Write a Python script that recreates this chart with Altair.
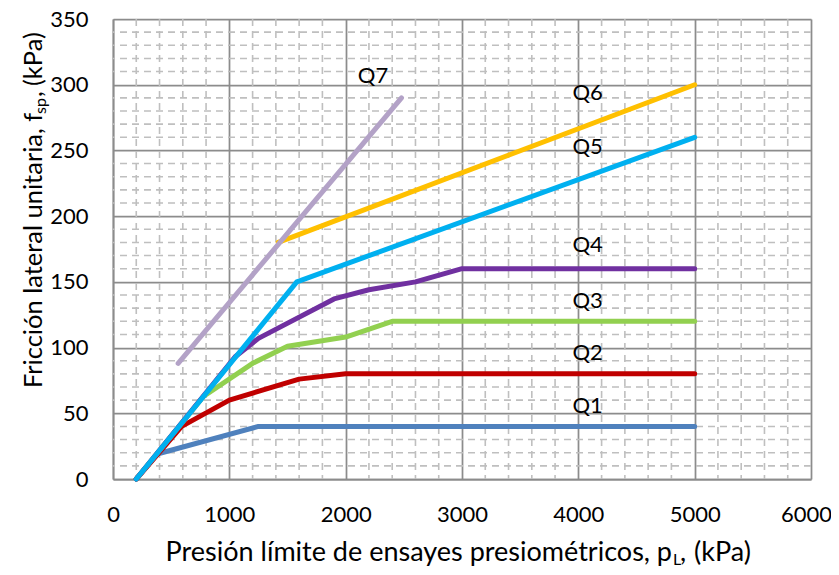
import altair as alt
import pandas as pd

# ---------------- data ----------------
series_names = ["Q1", "Q2", "Q3", "Q4", "Q5", "Q6", "Q7"]
series_colors = ["#4F81BD", "#C00000", "#92D050", "#7030A0", "#00B0F0", "#FFC000", "#B3A2C7"]

q1_x = [200, 380, 1250, 5000]
q1_y = [0, 19, 40, 40]
q2_x = [200, 590, 1000, 1600, 2000, 5000]
q2_y = [0, 40, 60, 76, 80, 80]
q3_x = [200, 780, 1200, 1500, 2000, 2400, 5000]
q3_y = [0, 63, 88, 101, 108, 120, 120]
q4_x = [200, 1050, 1250, 1900, 2200, 2600, 3000, 5000]
q4_y = [0, 93, 107, 137, 144, 150, 160, 160]
q5_x = [200, 1580, 5000]
q5_y = [0, 150, 260]
q6_x = [1420, 5000]
q6_y = [180, 300]
q7_x = [560, 2480]
q7_y = [88, 290]

series_x = [q1_x, q2_x, q3_x, q4_x, q5_x, q6_x, q7_x]
series_y = [q1_y, q2_y, q3_y, q4_y, q5_y, q6_y, q7_y]

label_text = ["Q1", "Q2", "Q3", "Q4", "Q5", "Q6", "Q7"]
label_x = [4080, 4080, 4080, 4080, 4080, 4080, 2235]
label_y = [50, 90.5, 130, 172.7, 247.3, 288.4, 301.3]

x_ticks = [0, 1000, 2000, 3000, 4000, 5000, 6000]
y_ticks = [0, 50, 100, 150, 200, 250, 300, 350]
x_minor = [v for v in range(0, 6001, 200) if v % 1000]
y_minor = [v for v in range(0, 351, 10) if v % 50]

x_title_parts = ["Presión límite de ensayes presiométricos, p", "L", ",", "(kPa)"]
y_title_parts = ["Fricción lateral unitaria, f", "sp", ",", "(kPa)"]

# ---------------- styling ----------------
FONT = "Lato"
MAJOR = "#8C8C8C"
MINOR = "#BFBFBF"
W, H = 698, 460

xscale = alt.Scale(domain=[0, 6000], nice=False, zero=False)
yscale = alt.Scale(domain=[0, 350], nice=False, zero=False)

common_axis = dict(format="d", title=None, grid=True, gridColor=MAJOR,
                   gridWidth=1.75, domainColor=MAJOR, domainWidth=1.75, ticks=False,
                   tickSize=0, labelPadding=25, labelFont=FONT, labelFontSize=22,
                   labelColor="black", labelFlush=False, labelOverlap=False)
xaxis = alt.Axis(values=x_ticks,
                 labelOffset={"condition": {"test": "datum.value == 6000", "value": -5},
                              "value": 0},
                 **common_axis)
yaxis = alt.Axis(values=y_ticks, **common_axis)

X = alt.X("x:Q", scale=xscale, axis=xaxis)
Y = alt.Y("y:Q", scale=yscale, axis=yaxis)

layers = []

# minor dashed grid
layers.append(
    alt.Chart(pd.DataFrame({"x": x_minor})).mark_rule(
        color=MINOR, strokeWidth=1.6, strokeDash=[7, 5]).encode(x=X)
)
layers.append(
    alt.Chart(pd.DataFrame({"y": y_minor})).mark_rule(
        color=MINOR, strokeWidth=1.6, strokeDash=[7, 5]).encode(y=Y)
)

# series lines (drawn in order, later on top)
for name, color, xs, ys in zip(series_names, series_colors, series_x, series_y):
    d = pd.DataFrame({"x": xs, "y": ys, "idx": list(range(len(xs)))})
    layers.append(
        alt.Chart(d).mark_line(color=color, strokeWidth=5, strokeCap="round",
                               strokeJoin="round").encode(x=X, y=Y, order="idx:Q")
    )

# series labels
lab = pd.DataFrame({"x": label_x, "y": label_y, "label": label_text})
layers.append(
    alt.Chart(lab).mark_text(font=FONT, fontSize=22, align="center",
                             baseline="alphabetic", color="black").encode(
        x=X, y=Y, text="label:N")
)

one = alt.Data(values=[{}])

def txt(s, px, py, size, align, angle=0):
    kw = dict(text=s, font=FONT, fontSize=size, align=align, baseline="alphabetic",
              color="black")
    if angle:
        kw["angle"] = angle
    return alt.Chart(one).mark_text(**kw).encode(
        x=alt.value(px - 113), y=alt.value(py - 19))

TS = 27
# x title (page coordinates converted to view coordinates)
layers.append(txt(x_title_parts[0], 672, 561, TS, "right"))
layers.append(txt(x_title_parts[1], 673, 565, 16, "left"))
layers.append(txt(x_title_parts[2], 680, 561, TS, "left"))
layers.append(txt(x_title_parts[3], 694, 561, TS, "left"))

# y title, rotated (reads bottom to top)
YS = 25.5
layers.append(txt(y_title_parts[0], 42, 388, YS, "left", 270))
layers.append(txt(y_title_parts[1], 46, 114, 16, "left", 270))
layers.append(txt(y_title_parts[2], 42, 97, YS, "left", 270))
layers.append(txt(y_title_parts[3], 42, 86, YS, "left", 270))

chart = alt.layer(*layers).properties(
    width=W, height=H,
    autosize=alt.AutoSizeParams(type="none"),
    padding={"left": 105, "top": 11, "right": 20, "bottom": 88},
).configure_view(strokeWidth=0)

chart.save("out.html", embed_options={"renderer": "svg", "actions": False})
